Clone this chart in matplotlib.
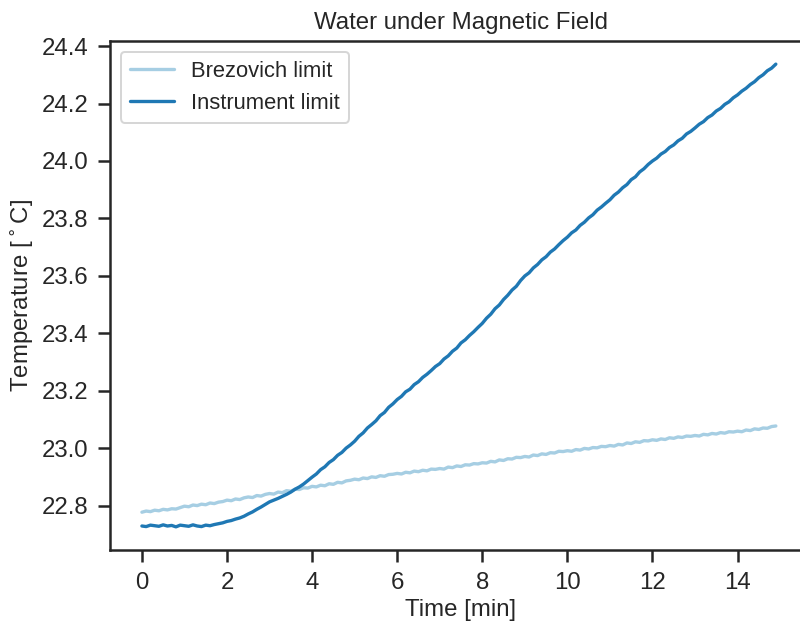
import numpy as np
import matplotlib
matplotlib.use("Agg")
import matplotlib.pyplot as plt
import seaborn as sns

# time samples [min]
time_min = np.round(np.arange(0, 150) * 0.1, 1)

brezovich = [
    22.778, 22.782, 22.780, 22.785, 22.783, 22.788, 22.786, 22.790, 22.789, 22.794,
    22.799, 22.797, 22.803, 22.801, 22.806, 22.804, 22.810, 22.808, 22.813, 22.815,
    22.820, 22.818, 22.824, 22.822, 22.828, 22.831, 22.829, 22.836, 22.834, 22.840,
    22.843, 22.841, 22.848, 22.846, 22.853, 22.851, 22.858, 22.857, 22.863, 22.862,
    22.868, 22.866, 22.872, 22.870, 22.877, 22.875, 22.882, 22.880, 22.887, 22.889,
    22.893, 22.891, 22.897, 22.895, 22.901, 22.899, 22.905, 22.903, 22.909, 22.910,
    22.913, 22.911, 22.917, 22.915, 22.921, 22.919, 22.924, 22.922, 22.928, 22.927,
    22.930, 22.928, 22.935, 22.933, 22.939, 22.937, 22.943, 22.942, 22.947, 22.946,
    22.950, 22.949, 22.955, 22.953, 22.960, 22.958, 22.964, 22.963, 22.969, 22.968,
    22.972, 22.970, 22.977, 22.975, 22.981, 22.979, 22.985, 22.984, 22.990, 22.989,
    22.992, 22.990, 22.996, 22.994, 23.000, 22.998, 23.003, 23.002, 23.007, 23.006,
    23.010, 23.008, 23.014, 23.012, 23.019, 23.017, 23.023, 23.021, 23.027, 23.026,
    23.030, 23.028, 23.033, 23.031, 23.037, 23.035, 23.040, 23.038, 23.043, 23.042,
    23.045, 23.043, 23.049, 23.047, 23.052, 23.050, 23.055, 23.053, 23.058, 23.057,
    23.060, 23.058, 23.064, 23.062, 23.068, 23.066, 23.071, 23.070, 23.076, 23.078,
]

instrument = [
    22.730, 22.728, 22.733, 22.731, 22.729, 22.734, 22.730, 22.732, 22.727, 22.733,
    22.731, 22.729, 22.734, 22.730, 22.728, 22.733, 22.731, 22.735, 22.738, 22.741,
    22.746, 22.749, 22.754, 22.758, 22.764, 22.772, 22.779, 22.788, 22.796, 22.805,
    22.814, 22.820, 22.826, 22.833, 22.840, 22.848, 22.858, 22.866, 22.876, 22.888,
    22.900, 22.911, 22.926, 22.936, 22.951, 22.961, 22.976, 22.986, 23.001, 23.012,
    23.025, 23.042, 23.054, 23.071, 23.083, 23.096, 23.114, 23.125, 23.143, 23.155,
    23.170, 23.181, 23.197, 23.206, 23.222, 23.232, 23.247, 23.258, 23.271, 23.285,
    23.295, 23.311, 23.322, 23.338, 23.349, 23.367, 23.378, 23.393, 23.406, 23.421,
    23.435, 23.453, 23.467, 23.486, 23.499, 23.518, 23.533, 23.551, 23.564, 23.584,
    23.600, 23.611, 23.628, 23.640, 23.656, 23.667, 23.683, 23.694, 23.709, 23.723,
    23.735, 23.750, 23.760, 23.776, 23.787, 23.802, 23.813, 23.829, 23.840, 23.853,
    23.865, 23.881, 23.892, 23.907, 23.918, 23.935, 23.945, 23.962, 23.973, 23.988,
    24.000, 24.010, 24.024, 24.033, 24.047, 24.056, 24.070, 24.079, 24.094, 24.103,
    24.115, 24.128, 24.137, 24.151, 24.160, 24.174, 24.183, 24.197, 24.206, 24.220,
    24.230, 24.243, 24.253, 24.266, 24.276, 24.290, 24.300, 24.314, 24.323, 24.337,
]

series_labels = ["Brezovich limit", "Instrument limit"]

sns.set_theme(context="talk", style="ticks", palette="Paired")
plt.rcParams['font.family'] = ['Liberation Sans', 'DejaVu Sans']
plt.rcParams['xtick.labelsize'] = 18
plt.rcParams['ytick.labelsize'] = 18
plt.rcParams['xtick.major.pad'] = 7.5
plt.rcParams['ytick.major.pad'] = 7.5

DPI = 96
fig = plt.figure(figsize=(800 / DPI, 623 / DPI), dpi=DPI)
ax = fig.add_axes([110 / 800, 73 / 623, 702 / 800, 509 / 623])

colors = sns.color_palette("Paired")
ax.plot(time_min, brezovich, color=colors[0], lw=2.5, label=series_labels[0])
ax.plot(time_min, instrument, color=colors[1], lw=2.5, label=series_labels[1])

ax.set_xlim(-0.75, 15.75)
ax.set_xticks([0, 2, 4, 6, 8, 10, 12, 14])
ax.set_yticks([22.8, 23.0, 23.2, 23.4, 23.6, 23.8, 24.0, 24.2, 24.4])
ax.set_xlabel("Time [min]")
ax.set_ylabel(r"Temperature [$^\circ$C]")
ax.set_title("Water under Magnetic Field", pad=9)
ax.legend(loc="upper left")

fig.savefig("out.png", dpi=DPI)
